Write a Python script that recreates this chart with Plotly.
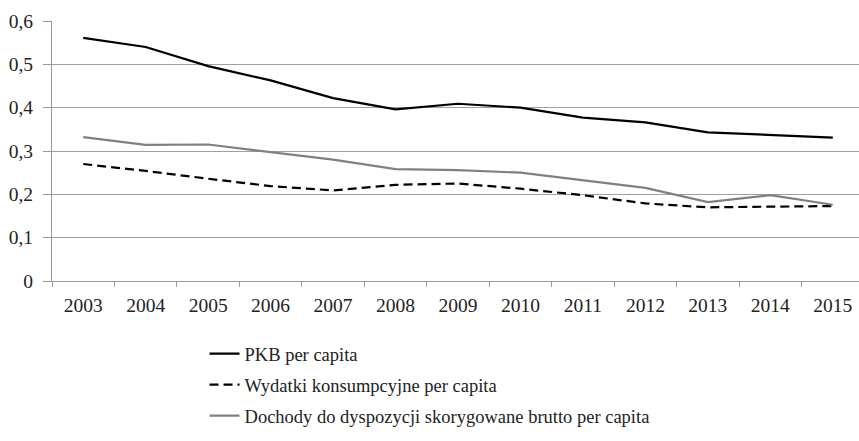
import plotly.graph_objects as go

years = ["2003", "2004", "2005", "2006", "2007", "2008", "2009", "2010",
         "2011", "2012", "2013", "2014", "2015"]
pkb = [0.561, 0.540, 0.496, 0.463, 0.422, 0.396, 0.409, 0.400,
       0.377, 0.366, 0.343, 0.337, 0.331]
wydatki = [0.270, 0.254, 0.236, 0.219, 0.209, 0.222, 0.225, 0.213,
           0.198, 0.179, 0.170, 0.171, 0.173]
dochody = [0.332, 0.314, 0.315, 0.298, 0.280, 0.258, 0.256, 0.250,
           0.232, 0.215, 0.182, 0.198, 0.176]
ytick_vals = [0, 0.1, 0.2, 0.3, 0.4, 0.5, 0.6]
ytick_text = ["0", "0,1", "0,2", "0,3", "0,4", "0,5", "0,6"]

names = ["PKB per capita", "Wydatki konsumpcyjne per capita",
         "Dochody do dyspozycji skorygowane brutto per capita"]

FONT = "Liberation Serif"

fig = go.Figure()
fig.add_trace(go.Scatter(x=years, y=pkb, mode="lines", name=names[0],
                         legendgroup="a",
                         line=dict(color="#000000", width=2.2)))
fig.add_trace(go.Scatter(x=years, y=wydatki, mode="lines", name=names[1],
                         legendgroup="b",
                         line=dict(color="#000000", width=2.2, dash="9px,5px")))
fig.add_trace(go.Scatter(x=years, y=dochody, mode="lines", name=names[2],
                         legendgroup="c",
                         line=dict(color="#808080", width=2.2)))

fig.update_layout(
    width=859, height=441,
    margin=dict(l=52, r=0, t=21, b=160, autoexpand=False),
    paper_bgcolor="white", plot_bgcolor="white",
    font=dict(family=FONT, size=19, color="#222222"),
    showlegend=True,
    legend=dict(x=0.189, y=-0.208, xanchor="left", yanchor="top",
                orientation="v", tracegroupgap=4,
                font=dict(family=FONT, size=18.5, color="#222222"),
                bgcolor="rgba(0,0,0,0)"),
    xaxis=dict(type="category", range=[-0.5, 12.42], tickson="boundaries",
               showgrid=False, showline=True, linecolor="#999999", linewidth=1,
               ticks="outside", ticklen=5, tickcolor="#999999",
               ticklabelstandoff=7, automargin=False,
               tickfont=dict(family=FONT, size=19.5, color="#222222")),
    yaxis=dict(range=[0, 0.6], tickvals=ytick_vals, ticktext=ytick_text,
               showgrid=True, gridcolor="#a0a0a0", gridwidth=1,
               showline=True, linecolor="#999999", linewidth=1,
               ticks="outside", ticklen=8, tickcolor="#999999",
               ticklabelstandoff=6, zeroline=False, automargin=False,
               tickfont=dict(family=FONT, size=19.5, color="#222222")),
)

fig.write_html("out.html", config={"displayModeBar": False},
               post_script="document.body.style.margin='0';document.body.style.overflow='hidden';")
